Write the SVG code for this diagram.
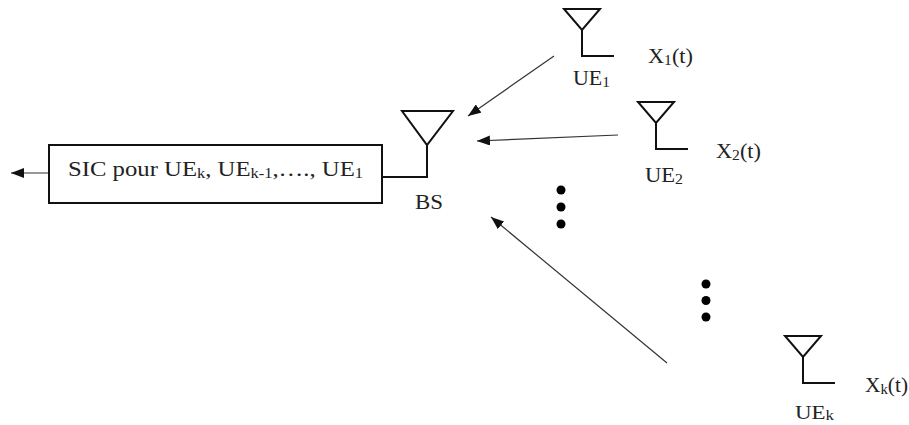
<svg xmlns="http://www.w3.org/2000/svg" width="909" height="425" viewBox="0 0 909 425">
<defs>
<marker id="ah" markerUnits="userSpaceOnUse" markerWidth="14" markerHeight="10" refX="13" refY="5" orient="auto"><path d="M0 0L13 5L0 10Z" fill="#111"/></marker>
<g id="ant"><path d="M-18 0H18L0 21Z" fill="none" stroke="#111" stroke-width="2"/><path d="M0 21V47H32" fill="none" stroke="#111" stroke-width="2"/></g>
</defs>
<style>
text{font-family:"Liberation Serif","Times New Roman",serif;fill:#222;font-size:20px}
.sub{font-size:14px}
.c{fill:none;stroke:#333;stroke-width:1.2;marker-end:url(#ah)}
</style>
<rect width="909" height="425" fill="#fff"/>
<g id="connectors">
<line class="c" x1="52" y1="173" x2="11" y2="173"/>
<line class="c" x1="554" y1="56" x2="468" y2="116"/>
<line class="c" x1="618" y1="135" x2="477" y2="141"/>
<line class="c" x1="667" y1="363" x2="491" y2="217"/>
</g>
<g id="sic"><rect x="49" y="145" width="333" height="58" fill="#fff" stroke="#111" stroke-width="2"/>
<text x="68" y="176" style="font-size:21px" textLength="295" lengthAdjust="spacingAndGlyphs">SIC pour UE<tspan class="sub" dy="2">k</tspan><tspan dy="-2">, UE</tspan><tspan class="sub" dy="2">k-1</tspan><tspan dy="-2">,…., UE</tspan><tspan class="sub" dy="2">1</tspan></text></g>
<g id="bs"><path d="M402 111H453L427 145Z" fill="none" stroke="#111" stroke-width="2"/><path d="M427 145V177H383" fill="none" stroke="#111" stroke-width="2"/>
<text x="415" y="209" textLength="28" lengthAdjust="spacingAndGlyphs">BS</text></g>
<g id="ue1"><use href="#ant" x="582" y="9"/><text x="573" y="85" textLength="37" lengthAdjust="spacingAndGlyphs">UE<tspan class="sub" dy="2">1</tspan></text><text x="648" y="63" textLength="45" lengthAdjust="spacingAndGlyphs">X<tspan class="sub" dy="2">1</tspan><tspan dy="-2">(t)</tspan></text></g>
<g id="ue2"><use href="#ant" x="656" y="102"/><text x="645" y="182" textLength="38" lengthAdjust="spacingAndGlyphs">UE<tspan class="sub" dy="2">2</tspan></text><text x="716" y="158" textLength="45" lengthAdjust="spacingAndGlyphs">X<tspan class="sub" dy="2">2</tspan><tspan dy="-2">(t)</tspan></text></g>
<g id="uek"><use href="#ant" x="803" y="336"/><text x="795" y="419" style="font-size:19px" textLength="39" lengthAdjust="spacingAndGlyphs">UE<tspan class="sub" dy="1">k</tspan></text><text x="865" y="392" textLength="43" lengthAdjust="spacingAndGlyphs">X<tspan class="sub" dy="2">k</tspan><tspan dy="-2">(t)</tspan></text></g>
<g id="dots1" fill="#000"><circle cx="561" cy="190" r="4.5"/><circle cx="561" cy="207" r="4.5"/><circle cx="561" cy="224" r="4.5"/></g>
<g id="dots2" fill="#000"><circle cx="706" cy="284" r="4.5"/><circle cx="706" cy="300.500" r="4.5"/><circle cx="706" cy="317" r="4.5"/></g>
</svg>
